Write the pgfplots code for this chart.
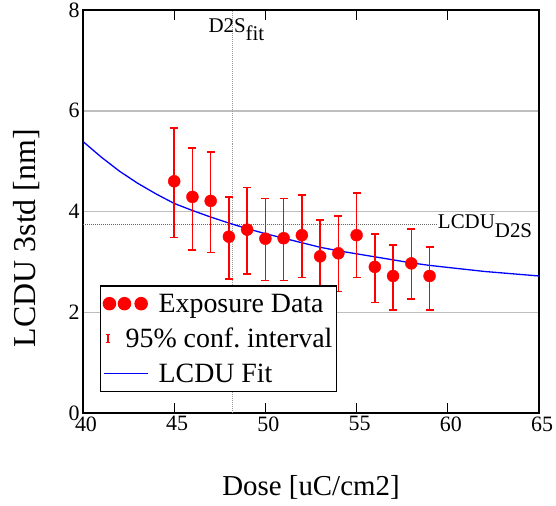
\documentclass[border=0pt]{standalone}
\usepackage{fontspec}
\setmainfont{Liberation Serif}
\usepackage{pgfplots}
\pgfplotsset{compat=1.18}
\definecolor{gridgray}{RGB}{190,190,190}
\begin{document}
\begin{tikzpicture}
\useasboundingbox (-83bp,-93bp) rectangle (473bp,413bp);
\begin{axis}[
  at={(0,0)}, anchor=south west,
  scale only axis, width=456bp, height=403bp,
  xmin=40, xmax=65, ymin=0, ymax=8,
  xtick={40,45,...,65}, ytick={0,2,4,6,8},
  /pgf/number format/assume math mode=true,
  xticklabel={\pgfmathprintnumber{\tick}},
  yticklabel={\pgfmathprintnumber{\tick}},
  ymajorgrids,
  major grid style={draw=gridgray, line width=1.5bp},
  axis line style={line width=1.6bp},
  tick align=inside,
  major tick length=10bp,
  xtick style={line width=1.2bp, black},
  ytick style={draw=none},
  ticklabel style={font=\rmfamily\fontsize{22}{26}\selectfont},
  xticklabel style={xshift=3bp},
  xlabel={Dose [uC/cm2]},
  ylabel={LCDU 3std [nm]},
  xlabel style={font=\rmfamily\fontsize{29}{34}\selectfont, at={(axis description cs:0.5,-0.2035)}, anchor=base},
  ylabel style={font=\rmfamily\fontsize{32}{36}\selectfont, at={(axis description cs:-0.1228,0.434)}, anchor=center},
  legend style={at={(axis cs:40.93,2.54)}, anchor=north west, draw=black, line width=1.5bp, fill=white,
    font=\rmfamily\fontsize{28}{32}\selectfont, inner xsep=2bp, inner ysep=6bp, row sep=10.5bp, column sep=8bp},
  legend cell align=left,
]
\addlegendimage{legend image code/.code={\path (0bp,0bp) (44bp,0bp); \fill[red] (5.6bp,0) circle[radius=6bp] (20.6bp,0) circle[radius=6bp] (37.3bp,0) circle[radius=6bp];}}
\addlegendentry{Exposure Data}
\addlegendimage{legend image code/.code={\path (0bp,0bp) (44bp,0bp); \draw[red, line width=1.5bp] (4bp,-4bp)--(4bp,4bp) (2bp,-4bp)--(6bp,-4bp) (2bp,4bp)--(6bp,4bp);}}
\addlegendentry{\hspace*{-33bp}95\% conf.\ interval}
\addlegendimage{legend image code/.code={\draw[blue, line width=1.2bp] (0bp,0bp)--(44bp,0bp);}}
\addlegendentry{LCDU Fit}

\draw[gray!80, densely dotted, line width=1bp] (axis cs:48.2,0) -- (axis cs:48.2,8);
\draw[black!60, densely dotted, line width=1bp] (axis cs:40,3.75) -- (axis cs:59.4,3.75);

\addplot[blue, line width=1.3bp, forget plot] coordinates {
(40,5.39) (41,5.08) (42,4.80) (43,4.56) (44,4.35) (45,4.16) (46,4.02) (47,3.89)
(48,3.77) (49,3.66) (50,3.56) (51,3.47) (52,3.38) (53,3.29) (54,3.22) (55,3.16)
(56,3.10) (57,3.04) (58,2.98) (59,2.93) (60,2.89) (61,2.85) (62,2.81) (63,2.78)
(64,2.75) (65,2.72)};

\addplot[only marks, mark=*, mark size=6bp, red, mark options={fill=red, draw=red}, forget plot,
  error bars/.cd, y dir=both, y explicit,
  error bar style={line width=1.6bp, red},
  error mark options={rotate=90, mark size=4bp, line width=1.6bp, red}]
coordinates {
(45,4.60) += (0,1.06) -= (0,1.12)
(46,4.29) += (0,0.97) -= (0,1.06)
(47,4.21) += (0,0.97) -= (0,1.02)
(48,3.50) += (0,0.79) -= (0,0.84)
(49,3.64) += (0,0.84) -= (0,0.88)
(50,3.46) += (0,0.80) -= (0,0.83)
(51,3.47) += (0,0.79) -= (0,0.84)
(52,3.53) += (0,0.80) -= (0,0.84)
(53,3.11) += (0,0.72) -= (0,0.72)
(54,3.17) += (0,0.74) -= (0,0.76)
(55,3.53) += (0,0.84) -= (0,0.84)
(56,2.90) += (0,0.65) -= (0,0.71)
(57,2.72) += (0,0.61) -= (0,0.68)
(58,2.97) += (0,0.68) -= (0,0.71)
(59,2.72) += (0,0.57) -= (0,0.68)
};

\node[anchor=base west, inner sep=0pt, font=\rmfamily\fontsize{21}{24}\selectfont] at (axis cs:46.87,7.56) {D2S\raisebox{-8bp}{fit}};
\node[anchor=base west, inner sep=0pt, font=\rmfamily\fontsize{21}{24}\selectfont] at (axis cs:59.45,3.67) {LCDU\raisebox{-9bp}{D2S}};
\end{axis}
\end{tikzpicture}
\end{document}
